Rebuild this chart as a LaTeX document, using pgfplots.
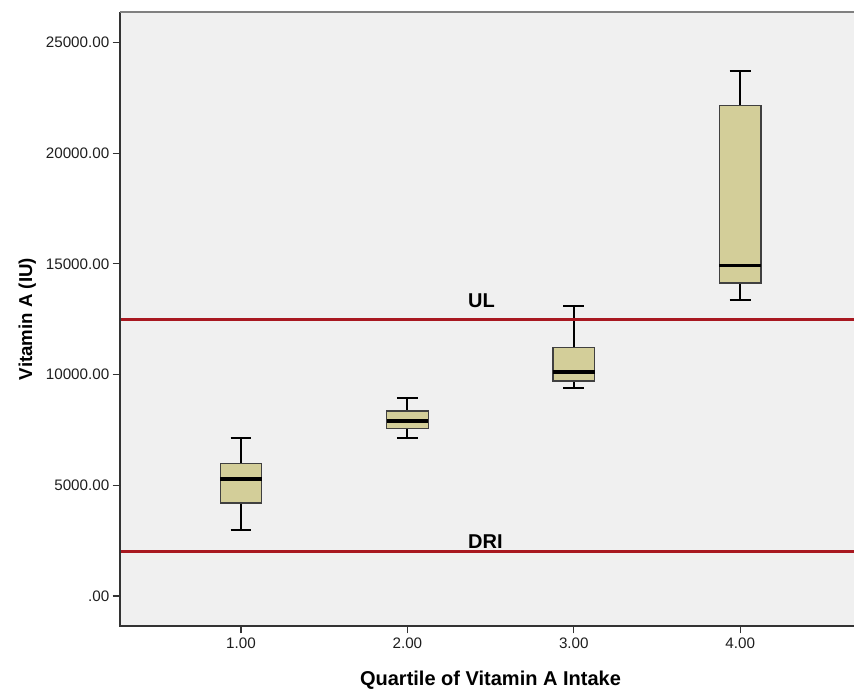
\documentclass[border=0pt]{standalone}
\usepackage{pgfplots}
\pgfplotsset{compat=1.18}
\usepgfplotslibrary{statistics}
\usepackage{fontspec}
\setmainfont{Liberation Sans}
\definecolor{bgcol}{RGB}{240,240,240}
\definecolor{boxfill}{RGB}{211,206,153}
\definecolor{refred}{RGB}{168,24,32}
\definecolor{ticktext}{RGB}{30,30,30}
\begin{document}
\begin{tikzpicture}
\begin{axis}[
  scale only axis,
  width=558.75pt, height=460.5pt,
  xmin=0.2728, xmax=4.75,
  ymin=-1355, ymax=26378,
  clip=false,
  axis background/.style={fill=bgcol},
  axis line style={draw=none},
  tick pos=left,
  tick align=outside,
  major tick length=5.5pt,
  tick style={black!80, line width=0.9pt},
  xtick={1,2,3,4},
  xticklabels={1.00,2.00,3.00,4.00},
  ytick={0,5000,10000,15000,20000,25000},
  yticklabels={.00,5000.00,10000.00,15000.00,20000.00,25000.00},
  ticklabel style={font=\fontsize{11.4pt}{13pt}\selectfont, text=ticktext},
  yticklabel style={xshift=1pt},
  xlabel={Quartile of Vitamin A Intake},
  ylabel={Vitamin A (IU)},
  xlabel style={font=\fontsize{15pt}{17pt}\selectfont\bfseries, at={(axis description cs:0.4973,-0.0972)}, anchor=base},
  ylabel style={font=\fontsize{14pt}{16pt}\selectfont\bfseries, at={(axis description cs:-0.1181,0.5)}, anchor=base},
  boxplot/draw direction=y,
  boxplot/box extend=0.25,
  boxplot/whisker extend=0.126,
  boxplot/every box/.style={draw=black!75, line width=0.8pt, fill=boxfill},
  boxplot/every whisker/.style={draw=black, fill=none, line width=1.4pt},
  boxplot/every median/.style={draw=black, fill=none, line width=2.5pt},
]
\addplot[boxplot prepared={draw position=1, lower whisker=2995, lower quartile=4200, median=5285, upper quartile=5993, upper whisker=7123}] coordinates {};
\addplot[boxplot prepared={draw position=2, lower whisker=7136, lower quartile=7558, median=7904, upper quartile=8356, upper whisker=8943}] coordinates {};
\addplot[boxplot prepared={draw position=3, lower whisker=9395, lower quartile=9711, median=10117, upper quartile=11215, upper whisker=13112}] coordinates {};
\addplot[boxplot prepared={draw position=4, lower whisker=13370, lower quartile=14137, median=14920, upper quartile=22161, upper whisker=23727}] coordinates {};
\addplot[refred, line width=2.1pt, no marks] coordinates {(0.2728,12500) (4.75,12500)};
\addplot[refred, line width=2.1pt, no marks] coordinates {(0.2728,2000) (4.75,2000)};
\node[anchor=base west, inner sep=0pt, font=\fontsize{15pt}{17pt}\selectfont\bfseries, yshift=9pt] at (axis cs:2.364,12500) {UL};
\node[anchor=base west, inner sep=0pt, font=\fontsize{15pt}{17pt}\selectfont\bfseries, yshift=2.7pt] at (axis cs:2.364,2000) {DRI};
\draw[black!80, line width=0.9pt] (rel axis cs:0,1) -- (rel axis cs:0,0) -- (rel axis cs:1,0);
\draw[black!50, line width=0.9pt] (rel axis cs:0,1) -- (rel axis cs:1,1);
\end{axis}
\pgfresetboundingbox
\path[use as bounding box] ([xshift=-90pt,yshift=-49.5pt]current axis.south west) rectangle ([xshift=550.5pt,yshift=9pt]current axis.north west);
\end{tikzpicture}
\end{document}
